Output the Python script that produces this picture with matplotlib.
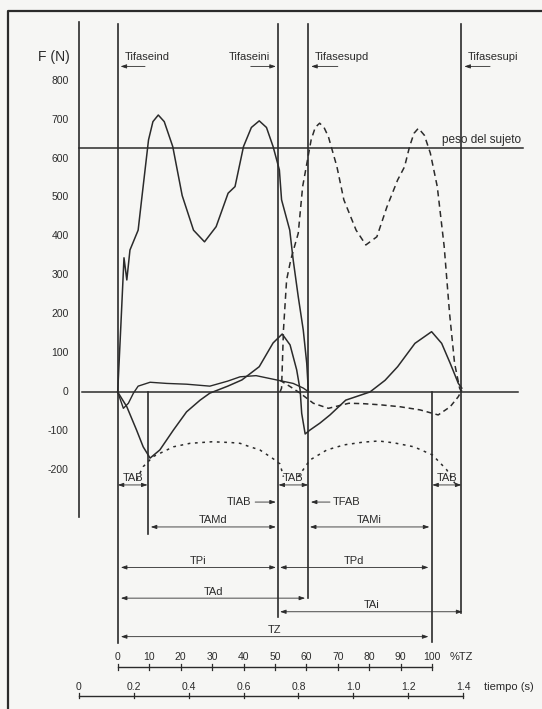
import matplotlib.pyplot as plt

# eje x en %TZ, eje y en N
# fuerza vertical pie derecho (continua)
fz_d_x = [0, 1.0, 2.0, 2.9, 3.9, 6.5, 7.6, 9.8, 11.2, 12.9, 14.8, 17.5, 20.5, 24.1, 27.6, 31.3,
          35.1, 37.3, 40.0, 42.5, 45.0, 47.3, 49.4, 51.4, 52.1, 54.7, 55.8, 57.4, 59.0, 60.1, 60.6]
fz_d_y = [0, 170, 345, 288, 365, 416, 494, 648, 695, 712, 695, 631, 505, 416, 386, 425,
          511, 528, 631, 680, 697, 680, 631, 571, 494, 416, 339, 245, 159, 74, 5]

# fuerza vertical pie izquierdo (discontinua)
fz_i_x = [51.6, 52.1, 52.7, 53.7, 54.8, 55.3, 57.4, 58.8, 61.5, 62.8, 64.2, 65.6, 67.0, 69.7,
          71.9, 75.8, 78.9, 82.4, 85.6, 89.0, 91.2, 92.8, 94.2, 95.6, 97.5, 99.4, 101.6, 103.8,
          105.5, 107.1, 108.7, 109.3]
fz_i_y = [0, 10, 159, 288, 331, 348, 408, 528, 648, 680, 691, 680, 656, 579,
          494, 416, 378, 399, 476, 545, 579, 631, 665, 678, 660, 614, 528, 374,
          203, 74, 10, 0]

# fuerza anteroposterior (continua)
fy_x = [0, 2.9, 6.0, 8.1, 10.3, 13.4, 17.7, 21.9, 26.2, 29.3, 35.0, 39.5, 45.0, 49.4, 52.3,
        54.8, 56.9, 58.0, 58.5, 59.6, 61.1, 64.3, 67.5, 72.5, 80.2, 85.0, 89.0, 94.5, 99.8,
        103.0, 105.7, 108.3, 109.4]
fy_y = [0, -38, -98, -141, -170, -149, -98, -51, -21, -3, 15, 31, 65, 126, 149,
        121, 57, 5, -55, -108, -98, -80, -59, -21, 0, 30, 65, 125, 155,
        125, 74, 22, 10]

# fuerza mediolateral apoyo derecho (continua)
fx_d_x = [0, 1.8, 3.4, 5.0, 6.5, 10.3, 15.6, 21.9, 29.3, 35.0, 38.9, 44.0, 50.5, 55.8, 59.0, 60.6]
fx_d_y = [0, -42, -29, -3, 15, 25, 22, 20, 15, 28, 39, 42, 31, 22, 10, 1]

# fuerza mediolateral apoyo izquierdo (discontinua)
fx_i_x = [51.6, 54.8, 58.0, 62.2, 67.0, 73.5, 78.0, 83.5, 89.8, 96.1, 101.9, 105.7, 108.3, 109.4]
fx_i_y = [30, 14, -3, -29, -42, -29, -30, -33, -38, -46, -59, -38, -12, 5]

# trayectorias punteadas
arco1_x = [6.0, 8.1, 11.3, 17.7, 23.0, 30.0, 36.0, 38.9, 41.7, 45.2, 49.5, 51.6, 52.7]
arco1_y = [-226, -192, -166, -141, -132, -128, -130, -132, -140, -149, -172, -185, -218]
arco2_x = [57.4, 61.1, 66.5, 72.0, 78.0, 83.0, 88.0, 94.2, 100.1, 104.6, 107.2]
arco2_y = [-218, -175, -149, -136, -129, -126, -131, -141, -162, -200, -235]

peso = 627
y_ticks = [800, 700, 600, 500, 400, 300, 200, 100, 0, -100, -200]
pct_ticks = [0, 10, 20, 30, 40, 50, 60, 70, 80, 90, 100]
t_ticks = [0, 0.2, 0.4, 0.6, 0.8, 1.0, 1.2, 1.4]
t0 = 0.142   # s al inicio del ciclo
tz = 1.145   # duracion TZ en s

# lineas verticales de los eventos
ev_x = [0, 9.5, 51.1, 60.6, 100, 109.3]
ev_top = [946, 0, 946, 946, 0, 946]
ev_bot = [-645, -365, -578, -530, -643, -568]

# intervalos: etiqueta, inicio, fin, altura
intervalos = [('TAB', 0, 9.5, -239), ('TAB', 51.1, 60.6, -239), ('TAB', 100, 109.3, -239),
              ('TAMd', 10.5, 50.3, -347), ('TAMi', 61.1, 99.1, -347),
              ('TPi', 1, 50.3, -451), ('TPd', 51.6, 98.8, -451),
              ('TAd', 1, 59.6, -530), ('TAi', 51.6, 109.6, -565),
              ('TZ', 1, 98.8, -629)]


def t2pct(t):
    return (t - t0) / tz * 100


ink = '#2b2b2b'
plt.rcParams['font.family'] = ['Liberation Sans', 'DejaVu Sans']

fig = plt.figure(figsize=(5.42, 7.09), dpi=100, facecolor='#f6f6f4')
ax = fig.add_axes([0, 0, 1, 1])
ax.set_xlim(-37.42, 134.9)
ax.set_ylim(-815, 1007.7)
ax.axis('off')

# marco
ax.plot([-34.9, -34.9, 140], [-900, 979, 979], color=ink, lw=1.6)

# eje de fuerzas
y_axis_x = t2pct(0)
ax.plot([y_axis_x, y_axis_x], [951, -321], color=ink, lw=1.2)
for v in y_ticks:
    ax.text(-15.6, v, str(v), ha='right', va='center', fontsize=7.5, color=ink)
ax.text(-15.4, 861, 'F (N)', ha='right', va='center', fontsize=10, color=ink)

# lineas horizontales
ax.plot([y_axis_x, 129], [peso, peso], color=ink, lw=1.1)
ax.text(103.2, peso + 6, 'peso del sujeto', ha='left', va='bottom', fontsize=8.5, color=ink)
ax.plot([y_axis_x + 1, 127.4], [0, 0], color=ink, lw=1.1)

# eventos
for x, a, b in zip(ev_x, ev_top, ev_bot):
    ax.plot([x, x], [a, b], color=ink, lw=1.2)

# curvas
ax.plot(fz_d_x, fz_d_y, color=ink, lw=1.1)
ax.plot(fz_i_x, fz_i_y, color=ink, lw=1.1, dashes=(4, 2.8))
ax.plot(fy_x, fy_y, color=ink, lw=1.1)
ax.plot(fx_d_x, fx_d_y, color=ink, lw=1.0)
ax.plot(fx_i_x, fx_i_y, color=ink, lw=1.1, dashes=(3.5, 2.5))
ax.plot(arco1_x, arco1_y, color=ink, lw=1.1, dashes=(1.8, 3))
ax.plot(arco2_x, arco2_y, color=ink, lw=1.1, dashes=(1.8, 3))

arrow = dict(arrowstyle='-|>,head_length=0.35,head_width=0.12', color=ink, lw=0.6,
             shrinkA=0, shrinkB=0)
arrow2 = dict(arrowstyle='<|-|>,head_length=0.35,head_width=0.12', color=ink, lw=0.6,
              shrinkA=0, shrinkB=0)

# etiquetas superiores de fase
ax.text(2.3, 861, 'Tifaseind', ha='left', va='center', fontsize=8, color=ink)
ax.annotate('', xy=(0.9, 837), xytext=(8.7, 837), arrowprops=arrow)
ax.text(48.4, 861, 'Tifaseini', ha='right', va='center', fontsize=8, color=ink)
ax.annotate('', xy=(50.3, 837), xytext=(42.3, 837), arrowprops=arrow)
ax.text(62.7, 861, 'Tifasesupd', ha='left', va='center', fontsize=8, color=ink)
ax.annotate('', xy=(61.5, 837), xytext=(70.0, 837), arrowprops=arrow)
ax.text(111.4, 861, 'Tifasesupi', ha='left', va='center', fontsize=8, color=ink)
ax.annotate('', xy=(110.2, 837), xytext=(118.4, 837), arrowprops=arrow)

# intervalos temporales
for lab, a, b, y in intervalos:
    ax.annotate('', xy=(b, y), xytext=(a, y), arrowprops=arrow2)
    ax.text((a + b) / 2, y + 4, lab, ha='center', va='bottom', fontsize=8, color=ink)

ax.annotate('', xy=(50.3, -283), xytext=(43.7, -283), arrowprops=arrow)
ax.text(42.6, -283, 'TIAB', ha='right', va='center', fontsize=8, color=ink)
ax.annotate('', xy=(61.4, -283), xytext=(67.5, -283), arrowprops=arrow)
ax.text(68.5, -283, 'TFAB', ha='left', va='center', fontsize=8, color=ink)

# escala %TZ
ax.plot([pct_ticks[0], pct_ticks[-1]], [-707, -707], color=ink, lw=1.0)
for p in pct_ticks:
    ax.plot([p, p], [-700, -714], color=ink, lw=0.9)
    ax.text(p, -681, str(p), ha='center', va='center', fontsize=7.5, color=ink)
ax.text(105.4, -681, '%TZ', ha='left', va='center', fontsize=8, color=ink)

# escala de tiempo
ax.plot([t2pct(t_ticks[0]), t2pct(t_ticks[-1])], [-781, -781], color=ink, lw=1.0)
for t in t_ticks:
    ax.plot([t2pct(t), t2pct(t)], [-774, -788], color=ink, lw=0.9)
    lab = '0' if t == 0 else f'{t:.1f}'
    ax.text(t2pct(t), -758, lab, ha='center', va='center', fontsize=7.5, color=ink)
ax.text(116.5, -758, 'tiempo (s)', ha='left', va='center', fontsize=8, color=ink)

fig.savefig('out.png', dpi=100, facecolor=fig.get_facecolor())
